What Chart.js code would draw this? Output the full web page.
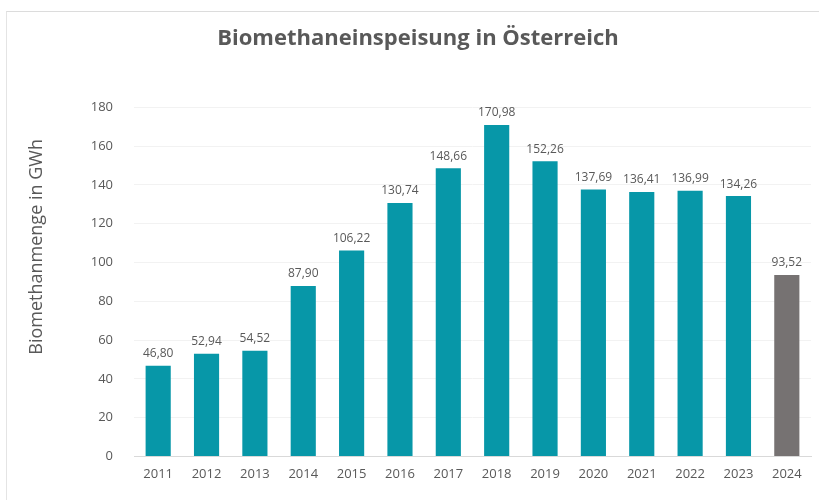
<!DOCTYPE html>
<html>
<head>
<meta charset="utf-8">
<script src="https://cdn.jsdelivr.net/npm/chart.js@4"></script>
<style>
  html, body { margin: 0; padding: 0; background: #fff; overflow: hidden; }
  #frame { position: absolute; left: 6px; top: 11px; width: 830px; height: 500px;
           border-top: 1px solid #dcdcdc; border-left: 1px solid #e4e4e4; }
  #wrap { position: absolute; left: 0; top: 0; width: 819px; height: 500px; }
</style>
</head>
<body>
<div id="frame"></div>
<div id="wrap"><canvas id="chart" width="819" height="500"></canvas></div>
<script>
const years = ['2011', '2012', '2013', '2014', '2015', '2016', '2017', '2018', '2019', '2020', '2021', '2022', '2023', '2024'];
const gwh = [46.80, 52.94, 54.52, 87.90, 106.22, 130.74, 148.66, 170.98, 152.26, 137.69, 136.41, 136.99, 134.26, 93.52];
const barColors = ['#0797a8', '#0797a8', '#0797a8', '#0797a8', '#0797a8', '#0797a8', '#0797a8',
                   '#0797a8', '#0797a8', '#0797a8', '#0797a8', '#0797a8', '#0797a8', '#767272'];
const yTicks = [0, 20, 40, 60, 80, 100, 120, 140, 160, 180];
const yTitle = 'Biomethanmenge in GWh';

const textGray = '#595959';
const fontFam = '"Open Sans", "Noto Sans", sans-serif';

// value labels above the bars, German decimal comma
const valueLabels = {
  id: 'valueLabels',
  afterDatasetsDraw(chart) {
    const ctx = chart.ctx;
    const meta = chart.getDatasetMeta(0);
    ctx.save();
    ctx.fillStyle = textGray;
    ctx.font = '12px ' + fontFam;
    ctx.textAlign = 'center';
    ctx.textBaseline = 'bottom';
    meta.data.forEach((bar, i) => {
      ctx.fillText(gwh[i].toFixed(2).replace('.', ','), bar.x, bar.y - 6);
    });
    ctx.restore();
  }
};

// y axis title, sits a bit above the middle like in the original
const sideTitle = {
  id: 'sideTitle',
  afterDraw(chart) {
    const ctx = chart.ctx;
    const area = chart.chartArea;
    ctx.save();
    ctx.translate(area.left - 97, (area.top + area.bottom) / 2 - 35);
    ctx.rotate(-Math.PI / 2);
    ctx.fillStyle = textGray;
    ctx.font = '18px ' + fontFam;
    ctx.textAlign = 'center';
    ctx.textBaseline = 'middle';
    ctx.fillText(yTitle, 0, 0);
    ctx.restore();
  }
};

const ctx = document.getElementById('chart');
new Chart(ctx, {
  type: 'bar',
  data: {
    labels: years,
    datasets: [{
      data: gwh,
      backgroundColor: barColors,
      categoryPercentage: 1,
      barPercentage: 0.52
    }]
  },
  options: {
    responsive: false,
    animation: false,
    layout: { padding: { top: 26, right: 8, bottom: 8, left: 25 } },
    plugins: {
      legend: { display: false },
      tooltip: { enabled: false },
      title: {
        display: true,
        text: 'Biomethaneinspeisung in Österreich',
        color: textGray,
        font: { family: fontFam, size: 22, weight: 'bold' },
        padding: { top: 0, bottom: 55 }
      }
    },
    scales: {
      x: {
        grid: { display: false, drawTicks: false },
        border: { color: '#d9d9d9' },
        ticks: { color: textGray, font: { family: fontFam, size: 13 }, padding: 10 }
      },
      y: {
        min: 0,
        max: 180,
        afterBuildTicks(axis) { axis.ticks = yTicks.map(v => ({ value: v })); },
        afterFit(axis) { axis.width = 109; },
        grid: { color: '#f2f2f2', drawTicks: false },
        border: { display: false },
        ticks: { color: textGray, font: { family: fontFam, size: 13 }, padding: 21 }
      }
    }
  },
  plugins: [valueLabels, sideTitle]
});
</script>
</body>
</html>
